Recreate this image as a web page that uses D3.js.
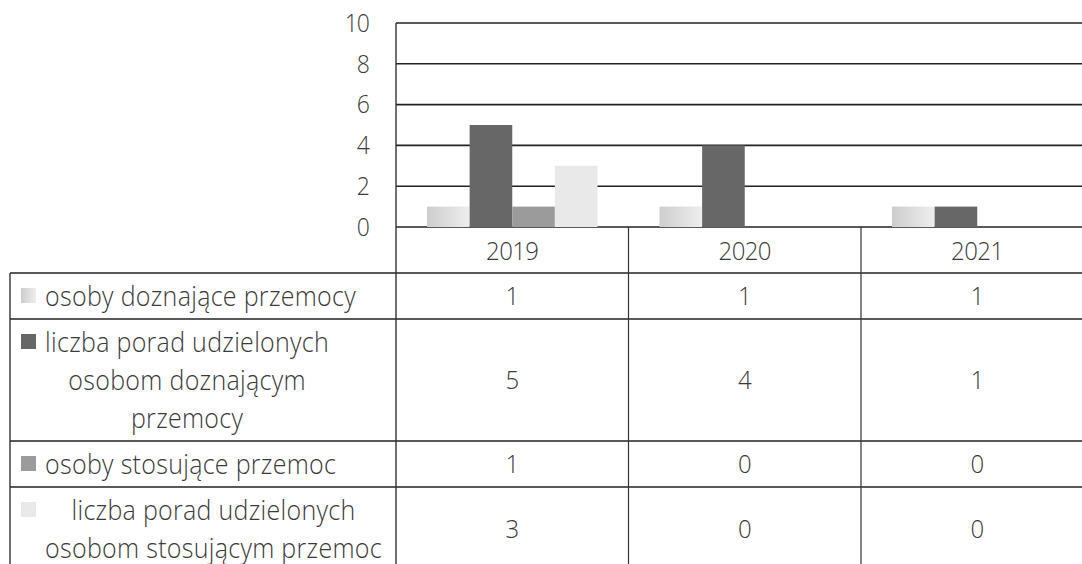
<!DOCTYPE html>
<html>
<head>
<meta charset="utf-8">
<script src="https://cdn.jsdelivr.net/npm/d3@7"></script>
<style>
	body { margin: 0; background: #fff; }
	svg { display: block; }
	text { font-family: 'Segoe UI Light', 'Open Sans', 'Noto Sans', sans-serif; font-weight: 300; fill: #3a3a3a; }
</style>
</head>
<body>
<div id="chart"></div>
<script>
// data
const years = ['2019', '2020', '2021']
const seriesLabels = [
	['osoby doznające przemocy'],
	['liczba porad udzielonych', 'osobom doznającym', 'przemocy'],
	['osoby stosujące przemoc'],
	['liczba porad udzielonych', 'osobom stosującym przemoc'],
]
const osobyDoznajace = [1, 1, 1]
const poradyDoznajacym = [5, 4, 1]
const osobyStosujace = [1, 0, 0]
const poradyStosujacym = [3, 0, 0]
const yTicks = [0, 2, 4, 6, 8, 10]

const seriesValues = [osobyDoznajace, poradyDoznajacym, osobyStosujace, poradyStosujacym]
const fills = ['url(#lightGrad)', '#676767', '#9b9b9b', '#e9e9e9']

const width = 1082
const height = 564
const plotLeft = 396
const colW = 232.5
const lineH = 38
// the scan is a bit stretched vertically, so text gets a slightly taller scale
const stretch = 1.1

const svg = d3.select('#chart')
	.append('svg')
	.attr('width', width)
	.attr('height', height)

const grad = svg.append('defs').append('linearGradient')
	.attr('id', 'lightGrad')
	.attr('x1', 0).attr('y1', 0).attr('x2', 1).attr('y2', 0)
grad.append('stop').attr('offset', '0%').attr('stop-color', '#cdcdcd')
grad.append('stop').attr('offset', '100%').attr('stop-color', '#eeeeee')

const place = (tx, ty) => `translate(${tx},${ty}) scale(1,${stretch})`

// scales
const y = d3.scaleLinear().domain([0, 10]).range([227, 23])
const x0 = d3.scaleBand().domain(years).range([plotLeft, plotLeft + colW * years.length])
const x1 = d3.scaleBand().domain(d3.range(seriesValues.length)).range([31, colW - 31])

// gridlines
svg.append('g')
	.selectAll('line')
	.data(yTicks)
	.join('line')
	.attr('x1', plotLeft).attr('x2', width)
	.attr('y1', d => y(d)).attr('y2', d => y(d))
	.attr('stroke', '#222')
	.attr('stroke-width', 1.6)

// y axis labels
svg.append('g')
	.selectAll('text')
	.data(yTicks)
	.join('text')
	.attr('transform', d => place(369, y(d)))
	.attr('dy', '0.35em')
	.attr('text-anchor', 'end')
	.style('font-size', '23px')
	.style('letter-spacing', '-1px')
	.text(d => d)

// bars
const groups = svg.append('g')
	.selectAll('g')
	.data(years)
	.join('g')
	.attr('transform', d => `translate(${x0(d)},0)`)

groups.selectAll('rect')
	.data((d, i) => seriesValues.map((s, k) => ({ k, v: s[i] })))
	.join('rect')
	.attr('x', d => x1(d.k))
	.attr('width', x1.bandwidth())
	.attr('y', d => y(d.v))
	.attr('height', d => y(0) - y(d.v))
	.attr('fill', d => fills[d.k])

// data table
const tableLeft = 10
const yearRowTop = y(0)
const yearRowH = 46
const rowH = seriesLabels.map(l => 8 + lineH * l.length)
const rowTop = []
let acc = yearRowTop + yearRowH
rowH.forEach(h => { rowTop.push(acc); acc += h })

const table = svg.append('g')

// year row labels
table.selectAll('text.year')
	.data(years)
	.join('text')
	.attr('class', 'year')
	.attr('transform', d => place(x0(d) + colW / 2, yearRowTop + yearRowH / 2 + 1))
	.attr('dy', '0.35em')
	.attr('text-anchor', 'middle')
	.style('font-size', '24px')
	.style('letter-spacing', '-0.6px')
	.text(d => d)

// horizontal lines
table.selectAll('line.h')
	.data(rowTop)
	.join('line')
	.attr('class', 'h')
	.attr('x1', tableLeft).attr('x2', width)
	.attr('y1', d => d).attr('y2', d => d)
	.attr('stroke', '#222')
	.attr('stroke-width', 1.6)

// vertical lines
table.append('line')
	.attr('x1', plotLeft).attr('x2', plotLeft)
	.attr('y1', y(10)).attr('y2', height)
	.attr('stroke', '#333').attr('stroke-width', 1.4)
table.append('line')
	.attr('x1', tableLeft).attr('x2', tableLeft)
	.attr('y1', rowTop[0]).attr('y2', height)
	.attr('stroke', '#333').attr('stroke-width', 1.4)
table.selectAll('line.v')
	.data(years.slice(1))
	.join('line')
	.attr('class', 'v')
	.attr('x1', d => x0(d)).attr('x2', d => x0(d))
	.attr('y1', yearRowTop).attr('y2', height)
	.attr('stroke', '#333').attr('stroke-width', 1.2)

// row labels with legend keys
seriesLabels.forEach((lines, i) => {
	const top = rowTop[i]
	const firstY = top + rowH[i] / 2 - (lines.length - 1) * lineH / 2
	const g = table.append('g')
	g.append('rect')
		.attr('x', 21).attr('y', firstY - 8)
		.attr('width', 15).attr('height', 15)
		.attr('fill', fills[i])
	const texts = g.selectAll('text')
		.data(lines)
		.join('text')
		.attr('dy', '0.35em')
		.attr('text-anchor', 'middle')
		.style('font-size', '25px')
		.style('letter-spacing', '0.3px')
		.text(d => d)
	const maxW = d3.max(texts.nodes(), n => n.getComputedTextLength())
	texts.attr('transform', (d, j) => place(45 + maxW / 2, firstY + j * lineH))

	// values
	table.selectAll(null)
		.data(years)
		.join('text')
		.attr('transform', d => place(x0(d) + colW / 2, top + rowH[i] / 2))
		.attr('dy', '0.35em')
		.attr('text-anchor', 'middle')
		.style('font-size', '24px')
		.text((d, j) => seriesValues[i][j])
})
</script>
</body>
</html>
